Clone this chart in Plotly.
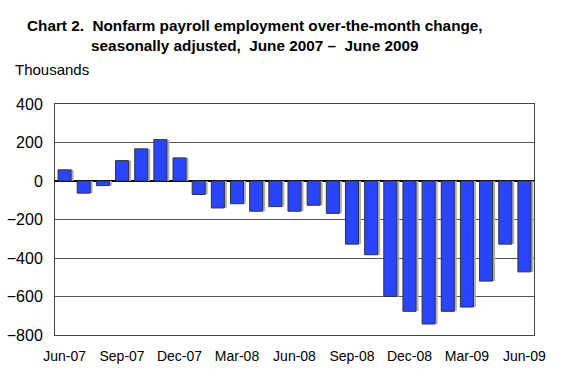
import plotly.graph_objects as go

months = ["Jun-07", "Jul-07", "Aug-07", "Sep-07", "Oct-07", "Nov-07", "Dec-07",
          "Jan-08", "Feb-08", "Mar-08", "Apr-08", "May-08", "Jun-08", "Jul-08",
          "Aug-08", "Sep-08", "Oct-08", "Nov-08", "Dec-08", "Jan-09", "Feb-09",
          "Mar-09", "Apr-09", "May-09", "Jun-09"]
change = [58, -63, -24, 106, 167, 215, 120,
          -70, -140, -118, -157, -133, -157, -126,
          -168, -328, -383, -600, -677, -743, -677,
          -655, -520, -328, -472]
tick_labels = ["Jun-07", "Sep-07", "Dec-07", "Mar-08", "Jun-08",
               "Sep-08", "Dec-08", "Mar-09", "Jun-09"]
y_ticks = [400, 200, 0, -200, -400, -600, -800]

FONT = "Liberation Sans, Arial, sans-serif"
fig = go.Figure()
# shadow
fig.add_trace(go.Bar(x=months, y=change, width=0.68, offset=-0.34 + 0.13,
                     marker=dict(color="#b0b0b0", line=dict(width=0)),
                     hoverinfo="skip", showlegend=False))
fig.add_trace(go.Bar(x=months, y=change, width=0.68, offset=-0.34,
                     marker=dict(color="#2a45ff", line=dict(color="#333333", width=1)),
                     showlegend=False))

fig.update_layout(
    width=566, height=388,
    margin=dict(l=55, r=32, t=104, b=53),
    paper_bgcolor="white", plot_bgcolor="white",
    barmode="overlay",
    font=dict(family=FONT, color="black"),
    xaxis=dict(type="category", tickvals=tick_labels, ticktext=tick_labels,
               tickfont=dict(size=14), showgrid=False, ticks="",
               showline=True, linecolor="#444444", linewidth=1, mirror=True,
               ticklabelstandoff=8, automargin=False),
    yaxis=dict(range=[-800, 400], tickvals=y_ticks, tickfont=dict(size=16),
               showgrid=True, gridcolor="#555555", gridwidth=1,
               zeroline=True, zerolinecolor="black", zerolinewidth=1.5,
               showline=True, linecolor="#444444", linewidth=1, mirror=True,
               ticks="", ticklabelstandoff=8, automargin=False),
    annotations=[
        dict(text="<b>Chart 2.  Nonfarm payroll employment over-the-month change,</b><br><b>seasonally adjusted,  June 2007 –  June 2009</b>",
             xref="paper", yref="paper", x=0.4175, y=1.0, yshift=89, xanchor="center",
             yanchor="top", showarrow=False, font=dict(size=15.3, family=FONT), align="center"),
        dict(text="Thousands", xref="paper", yref="paper", x=-0.088, y=1.0, yshift=24,
             xanchor="left", yanchor="bottom", showarrow=False, font=dict(size=15, family=FONT)),
    ],
)
fig.write_html("out.html", config={"displayModeBar": False},
               post_script="document.body.style.margin='0';document.body.style.overflow='hidden';")
